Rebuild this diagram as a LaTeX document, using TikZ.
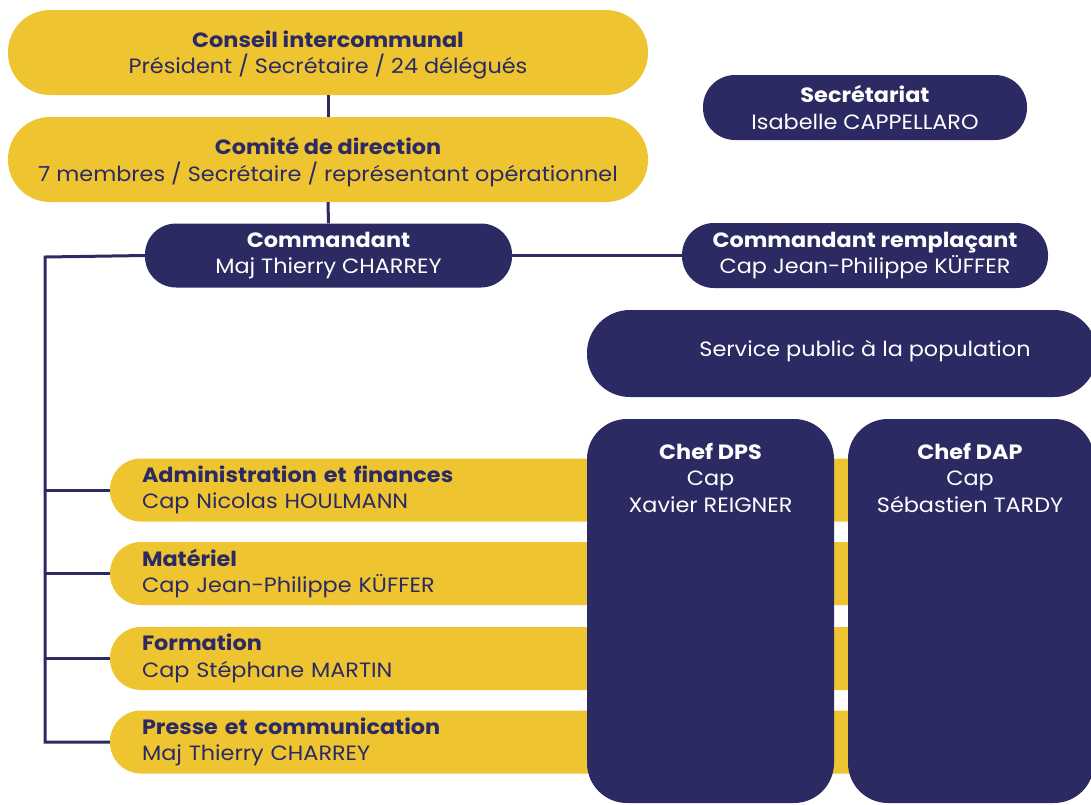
\documentclass[tikz,border=0pt]{standalone}
\usepackage{fontspec}
\setmainfont{Poppins}[FakeStretch=1.08]
\definecolor{gold}{HTML}{EEC530}
\definecolor{navy}{HTML}{2C2A62}
\begin{document}
\begin{tikzpicture}[x=1pt,y=-1pt,
  every node/.style={font=\fontsize{20.7}{26.5}\selectfont},
  ybox/.style={fill=gold, text=navy, inner xsep=0pt, inner ysep=0pt, text depth=0.4pt, align=center},
  nbox/.style={fill=navy, text=white, inner sep=0pt, align=center},
  bar/.style={fill=gold, text=navy, rounded corners=31pt, minimum width=790pt,
    minimum height=63pt, text width=726pt, inner xsep=32pt, inner ysep=0pt, align=left},
  wtxt/.style={text=white, inner sep=0pt, align=center},
  link/.style={draw=navy, line width=3pt}]
\clip (0,0) rectangle (1091,804);
% top boxes
\node[ybox, rounded corners=42pt, minimum width=640pt, minimum height=85pt] (conseil) at (328,52.5)
  {\textbf{Conseil intercommunal}\\Président / Secrétaire / 24 délégués};
\node[ybox, rounded corners=42pt, minimum width=640pt, minimum height=85pt] (comite) at (328,159.5)
  {\textbf{Comité de direction}\\7 membres / Secrétaire / représentant opérationnel};
\node[nbox, rounded corners=31pt, minimum width=367pt, minimum height=64pt] (cmd) at (328.5,255.5)
  {\textbf{Commandant}\\Maj Thierry CHARREY};
\node[nbox, rounded corners=32pt, minimum width=324pt, minimum height=65pt] (secr) at (865,107.5)
  {\textbf{Secrétariat}\\Isabelle CAPPELLARO};
\node[nbox, rounded corners=32pt, minimum width=366pt, minimum height=65pt] (rempl) at (865,255.5)
  {\textbf{Commandant remplaçant}\\Cap Jean-Philippe KÜFFER};
% connectors
\draw[link] (conseil.south) -- (comite.north);
\draw[link] (comite.south) -- (cmd.north);
\draw[link] (cmd.east) -- (rempl.west);
\coordinate (sp) at (45,257);
% yellow bars
\node[bar] (adm) at (505,490) {\textbf{Administration et finances}\\Cap Nicolas HOULMANN};
\node[bar] (mat) at (505,573.5) {\textbf{Matériel}\\Cap Jean-Philippe KÜFFER};
\node[bar] (form) at (505,658.5) {\textbf{Formation}\\Cap Stéphane MARTIN};
\node[bar] (pres) at (505,742) {\textbf{Presse et communication}\\Maj Thierry CHARREY};
\draw[link, line join=miter] (cmd.west) -- (sp) -- (sp |- pres.west) -- (pres.west);
\draw[link] (sp |- adm.west) -- (adm.west);
\draw[link] (sp |- mat.west) -- (mat.west);
\draw[link] (sp |- form.west) -- (form.west);
% service public
\node[nbox, rounded corners=43pt, minimum width=510pt, minimum height=87pt] (spp) at (842,353.5) {};
\node[wtxt] (spptxt) at (865,351) {Service public à la population};
% DPS / DAP
\node[nbox, rounded corners=40pt, minimum width=247pt, minimum height=384pt] (dps) at (710.5,611) {};
\node[wtxt, anchor=north] (dpstxt) at (710.5,443) {\textbf{Chef DPS}\\Cap\\Xavier REIGNER};
\node[nbox, rounded corners=40pt, minimum width=246pt, minimum height=384pt] (dap) at (971,611) {};
\node[wtxt, anchor=north] (daptxt) at (970,443) {\textbf{Chef DAP}\\Cap\\Sébastien TARDY};
\end{tikzpicture}
\end{document}
